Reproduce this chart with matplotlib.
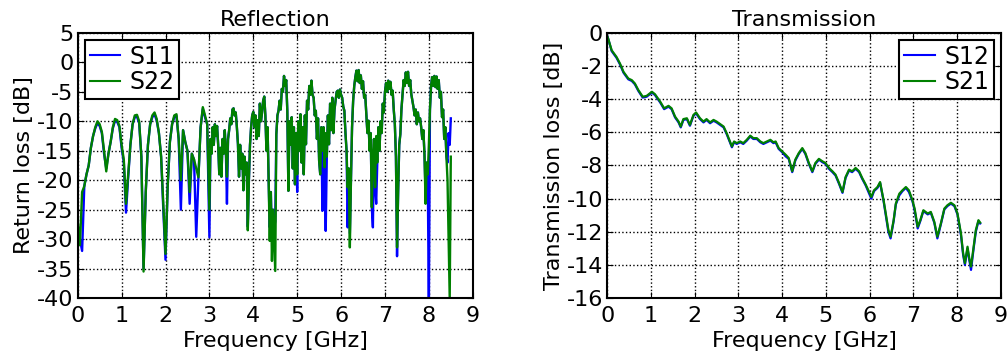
import matplotlib
matplotlib.use("Agg")
import matplotlib.pyplot as plt
from matplotlib.ticker import FuncFormatter

# Reflection sweep: 50 MHz steps up to 2.95 GHz, 25 MHz steps from 3 to 8.5 GHz
refl_freq = [round(i * 0.05, 3) for i in range(60)] + [round(3.0 + i * 0.025, 3) for i in range(221)]

s22 = [
    # 0 - 2.95 GHz (50 MHz steps)
    -27, -31, -22, -21, -19, -17.5, -14.5, -12.5, -11, -10,
    -10.5, -11.8, -15, -18.5, -15.5, -13.5, -11, -9.6, -9.8, -10.8,
    -14, -16.5, -24, -19, -14, -10.5, -9, -8.9, -10, -16,
    -35.5, -22, -14, -10.5, -9, -8.5, -9.6, -12, -16, -24,
    -32.5, -21, -13.5, -10.5, -9, -8.8, -13, -20, -11.5, -13.5,
    -15, -22, -15.5, -16.5, -18, -19.5, -11, -7.6, -9, -10.5,
    # 3.0 - 8.5 GHz (25 MHz steps)
    -25, -13, -15.5, -11, -14, -10.5, -12.5, -10.8,
    -14, -19, -14.5, -19.4, -13, -15.5, -11.5, -15,
    -19.4, -13, -11.5, -9.5, -10.5, -8, -7.8, -9,
    -8.5, -10.9, -13.8, -19.4, -14, -18, -15.5, -21.7,
    -16, -19, -17, -28.5, -20, -14, -11, -9,
    -8.4, -11, -9, -13, -9.8, -12.5, -7, -10,
    -8.5, -6.5, -5.8, -9, -15, -11, -20, -30.3,
    -22, -33.7, -25, -30, -35.4, -12.2, -9, -8.2,
    -6.5, -8, -4.5, -5, -2.3, -4, -3, -8.2,
    -21.8, -10, -14, -9.3, -18, -11, -20.7, -12,
    -19, -10, -15, -8.8, -17, -11, -19, -9,
    -13.9, -6.5, -8, -4, -5.5, -3.1, -5.5, -6,
    -9, -8.2, -13, -9.5, -16.7, -19, -11, -15,
    -11, -17.8, -12, -16, -9, -13.9, -7, -11.5,
    -6, -12, -8, -6.5, -5, -4.8, -6, -4.6,
    -5.5, -6, -7.5, -8.2, -12, -15, -21.2, -18,
    -31.4, -20, -11, -6.5, -4, -2.5, -1.4, -3.2,
    -1.3, -3.5, -2.2, -4.5, -3.2, -6, -5.5, -8.8,
    -12, -9.9, -15, -12, -24.6, -16, -13, -21.2,
    -12.5, -17, -11, -15, -10, -12, -7, -8.5,
    -5, -3.5, -5, -3.1, -4.5, -3.3, -5.5, -4.8,
    -8, -10.5, -16, -31.4, -22, -14, -12.2, -8,
    -5.5, -3, -4, -1.7, -3.5, -1.6, -4, -3,
    -5.4, -6.5, -7.6, -9, -8, -10.5, -8.5, -10,
    -9.5, -11, -13, -11.5, -15.6, -24, -17, -19,
    -14, -8, -4, -2.5, -4, -2.3, -4.2, -2.4,
    -4.5, -3, -6, -5, -9.3, -8, -13, -11,
    -16, -20, -30, -40, -16,
]

s11 = [
    # 0 - 2.95 GHz (50 MHz steps)
    -28, -30, -32, -21, -19, -17.5, -14.5, -12.5, -11.2, -10.3,
    -10.8, -12, -15.5, -18, -15.5, -13.5, -11.2, -9.9, -10.1, -11,
    -14.5, -17, -25.5, -19.5, -14, -10.5, -9.3, -9.2, -10.3, -16,
    -35, -22, -14, -10.5, -9.3, -8.8, -9.9, -12, -16, -25,
    -33.5, -21, -13.5, -10.5, -9.3, -9.1, -13, -25, -11.5, -13.5,
    -15, -24, -15.5, -16.5, -29.6, -19.5, -11, -7.9, -9.3, -10.5,
    # 3.0 - 8.5 GHz (25 MHz steps)
    -29.7, -13, -15.5, -11, -14, -10.5, -12.5, -10.8,
    -14, -19, -14.5, -19.4, -13, -15.5, -11.5, -15,
    -24, -13, -11.5, -9.5, -10.5, -8, -7.8, -9,
    -8.5, -10.9, -13.8, -19.4, -14, -18, -15.5, -21.7,
    -16, -19, -17, -27.9, -20, -14, -11, -9,
    -8.4, -11, -9, -13, -9.8, -12.5, -7, -10,
    -8.5, -6.5, -5.8, -9, -15, -11, -20, -28,
    -22, -30, -25, -28, -27, -12.2, -9, -8.2,
    -6.5, -8, -4.5, -5, -2.3, -4, -3, -8.2,
    -21.8, -10, -14, -9.3, -18, -11, -20.7, -12,
    -22, -10, -15, -8.8, -17, -11, -19, -9,
    -13.9, -6.5, -8, -4, -5.5, -3.1, -5.5, -6,
    -9, -8.2, -13, -9.5, -16.7, -19, -11, -25.2,
    -11, -17.8, -28.6, -16, -9, -13.9, -7, -11.5,
    -6, -12, -8, -6.5, -5, -4.8, -6, -4.6,
    -5.5, -6, -7.5, -8.2, -12, -15, -28, -18,
    -29, -20, -11, -6.5, -4, -2.5, -1.4, -3.2,
    -1.3, -3.5, -2.2, -4.5, -3.2, -6, -5.5, -8.8,
    -12, -9.9, -15, -12, -24.6, -28, -13, -21.2,
    -24, -17, -11, -15, -10, -12, -7, -8.5,
    -5, -3.5, -5, -3.1, -4.5, -3.3, -5.5, -4.8,
    -8, -10.5, -16, -32.9, -22, -14, -12.2, -8,
    -5.5, -3, -4, -1.7, -3.5, -1.6, -4, -3,
    -5.4, -6.5, -7.6, -9, -8, -10.5, -8.5, -10,
    -9.5, -11, -13, -11.5, -15.6, -22, -17, -19,
    -42, -8, -4, -2.5, -4, -2.3, -4.2, -2.4,
    -4.5, -3, -6, -5, -9.3, -8, -13, -11,
    -16, -17, -12, -14, -9.5,
]

# Transmission sweep
trans_freq = [
    0.0, 0.02, 0.1, 0.21, 0.29, 0.37, 0.48, 0.56, 0.63, 0.71,
    0.81, 0.9, 1.02, 1.09, 1.21, 1.3, 1.4, 1.47, 1.55, 1.63,
    1.68, 1.74, 1.82, 1.89, 1.97, 2.03, 2.12, 2.2, 2.27, 2.35,
    2.43, 2.5, 2.58, 2.66, 2.73, 2.79, 2.85, 2.9, 2.96, 3.04,
    3.11, 3.19, 3.27, 3.34, 3.42, 3.5, 3.57, 3.65, 3.73, 3.8,
    3.85, 3.92, 4.0, 4.08, 4.15, 4.23, 4.3, 4.38, 4.46, 4.53,
    4.61, 4.69, 4.76, 4.84, 4.92, 4.99, 5.07, 5.15, 5.22, 5.3,
    5.38, 5.45, 5.53, 5.6, 5.68, 5.76, 5.83, 5.91, 5.99, 6.04,
    6.1, 6.18, 6.24, 6.32, 6.37, 6.43, 6.48, 6.55, 6.6, 6.68,
    6.75, 6.83, 6.9, 6.98, 7.03, 7.1, 7.16, 7.23, 7.33, 7.4,
    7.48, 7.55, 7.63, 7.71, 7.78, 7.86, 7.94, 8.01, 8.09, 8.14,
    8.18, 8.24, 8.28, 8.32, 8.38, 8.43, 8.49, 8.53,
]

s21 = [
    -0.2, -0.35, -1.05, -1.45, -1.85, -2.35, -2.75, -2.85, -3.05, -3.45,
    -3.85, -3.8, -3.55, -3.7, -4.15, -4.55, -4.4, -4.55, -5.05, -5.35,
    -5.65, -5.2, -5.15, -5.55, -4.95, -4.8, -5.15, -5.35, -5.2, -5.4,
    -5.25, -5.35, -5.5, -5.65, -6.05, -6.45, -6.85, -6.55, -6.65, -6.55,
    -6.65, -6.45, -6.2, -6.35, -6.35, -6.55, -6.65, -6.55, -6.45, -6.6,
    -6.55, -6.95, -7.15, -7.35, -7.55, -8.35, -7.65, -7.25, -6.95, -7.25,
    -7.85, -8.35, -7.85, -7.6, -7.75, -7.85, -8.15, -8.35, -8.55, -9.05,
    -9.6, -8.7, -8.25, -8.35, -8.15, -8.35, -8.75, -9.15, -9.6, -9.9,
    -9.5, -9.3, -9.0, -10.1, -10.9, -11.9, -12.3, -11.3, -10.3, -9.7,
    -9.5, -9.3, -9.5, -10.1, -10.6, -11.7, -11.3, -10.7, -10.9, -10.8,
    -11.4, -12.3, -11.5, -10.6, -10.4, -10.25, -10.4, -10.9, -12.1, -13.3,
    -13.9, -12.9, -13.6, -14.1, -12.9, -11.9, -11.3, -11.45,
]

s12 = [
    -0.2, -0.35, -1.1, -1.5, -1.9, -2.4, -2.8, -2.9, -3.1, -3.5,
    -3.9, -3.85, -3.6, -3.75, -4.2, -4.6, -4.45, -4.6, -5.1, -5.4,
    -5.7, -5.25, -5.2, -5.6, -5.0, -4.85, -5.2, -5.4, -5.25, -5.45,
    -5.3, -5.4, -5.55, -5.7, -6.1, -6.5, -6.9, -6.6, -6.7, -6.6,
    -6.7, -6.5, -6.25, -6.4, -6.4, -6.6, -6.7, -6.6, -6.5, -6.65,
    -6.6, -7.0, -7.2, -7.45, -7.6, -8.4, -7.7, -7.3, -7.0, -7.3,
    -7.9, -8.4, -7.9, -7.65, -7.8, -7.9, -8.2, -8.4, -8.6, -9.1,
    -9.65, -8.75, -8.3, -8.4, -8.2, -8.4, -8.8, -9.2, -9.7, -10.0,
    -9.55, -9.35, -9.05, -10.15, -11.0, -12.0, -12.4, -11.35, -10.35, -9.8,
    -9.55, -9.35, -9.6, -10.15, -10.7, -11.8, -11.35, -10.75, -10.95, -10.85,
    -11.45, -12.4, -11.55, -10.65, -10.45, -10.3, -10.45, -10.95, -12.2, -13.4,
    -14.0, -13.0, -13.7, -14.3, -13.0, -12.0, -11.35, -11.5,
]

BLUE = "#0000ff"
GREEN = "#008000"
FS = 16

plt.rcParams.update({
    "font.family": "DejaVu Sans",
    "xtick.direction": "in",
    "ytick.direction": "in",
    "xtick.top": True,
    "ytick.right": True,
    "xtick.major.size": 4,
    "ytick.major.size": 4,
    "axes.linewidth": 1.5,
})

fig = plt.figure(figsize=(10.08, 3.54), dpi=100)
ax1 = fig.add_axes([0.0771, 0.158, 0.3919, 0.749])
ax2 = fig.add_axes([0.6025, 0.158, 0.3903, 0.749])

ax1.plot(refl_freq, s11, color=BLUE, lw=1.7, label="S11")
ax1.plot(refl_freq, s22, color=GREEN, lw=1.7, label="S22")
ax1.set_xlim(0, 9)
ax1.set_ylim(-40, 5)
ax1.set_xticks(range(0, 10))
ax1.set_yticks(range(-40, 6, 5))
ax1.set_title("Reflection", fontsize=FS, pad=5)
ax1.set_xlabel("Frequency [GHz]", fontsize=FS, labelpad=3)
ax1.set_ylabel("Return loss [dB]", fontsize=FS, labelpad=2)

ax2.plot(trans_freq, s12, color=BLUE, lw=1.6, label="S12")
ax2.plot(trans_freq, s21, color=GREEN, lw=1.6, label="S21")
ax2.set_xlim(0, 9)
ax2.set_ylim(-16, 0)
ax2.set_xticks(range(0, 10))
ax2.set_yticks(range(-16, 1, 2))
ax2.set_title("Transmission", fontsize=FS, pad=5)
ax2.set_xlabel("Frequency [GHz]", fontsize=FS, labelpad=3)
ax2.set_ylabel("Transmission loss [dB]", fontsize=FS, labelpad=2)

for ax, loc in ((ax1, "upper left"), (ax2, "upper right")):
    ax.grid(True, color="black", linestyle=":", linewidth=1.0)
    ax.tick_params(axis="x", labelsize=FS, pad=6)
    ax.tick_params(axis="y", labelsize=FS, pad=3)
    ax.yaxis.set_major_formatter(FuncFormatter(lambda v, p: f"{int(v)}"))
    leg = ax.legend(loc=loc, fontsize=17, handlelength=1.3, handletextpad=0.4,
                    borderpad=0.2, labelspacing=0.05, borderaxespad=0.3,
                    fancybox=False, framealpha=1)
    leg.get_frame().set_edgecolor("black")
    leg.get_frame().set_linewidth(1.5)
    for line in leg.get_lines():
        line.set_linewidth(1.5)

fig.savefig("out.png", dpi=100)
